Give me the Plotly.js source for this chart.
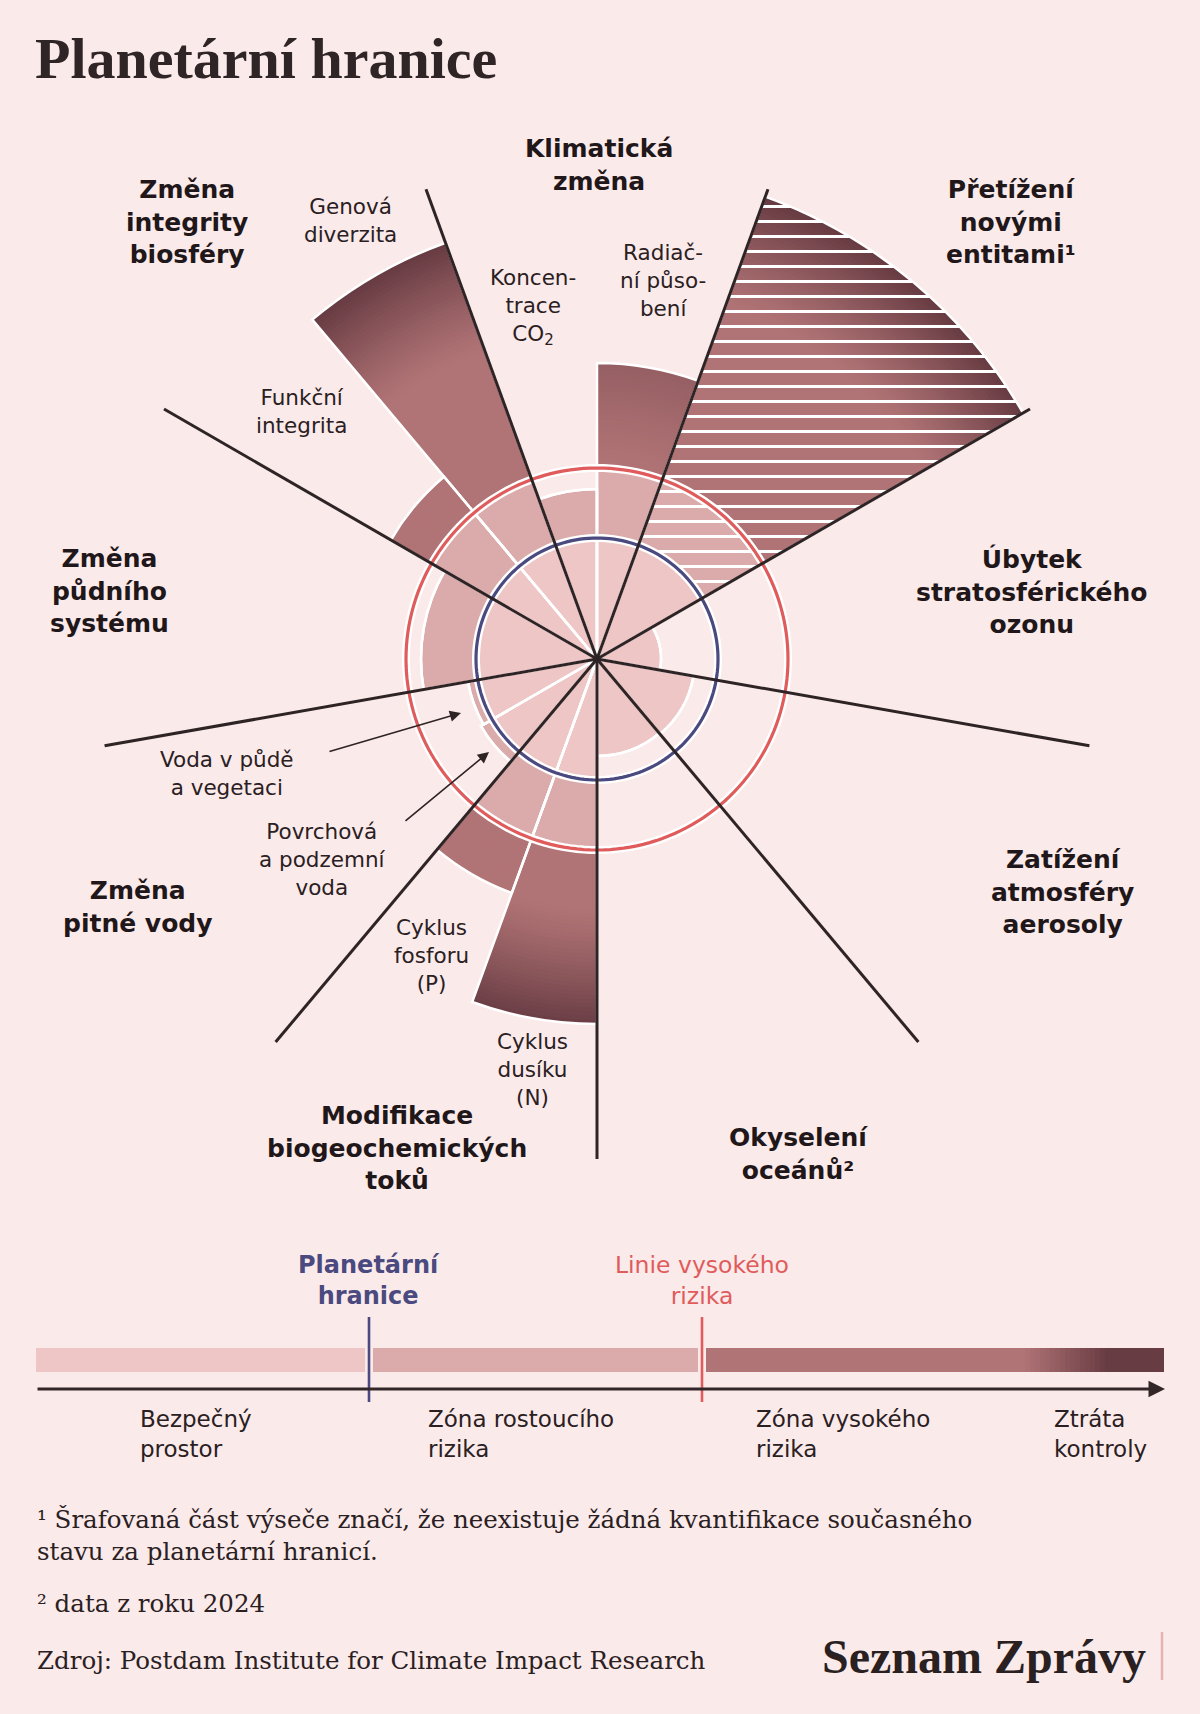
<!DOCTYPE html>
<html>
<head>
<meta charset="utf-8">
<script src="https://cdn.plot.ly/plotly-3.0.1.min.js"></script>
<style>
html,body{margin:0;padding:0;background:#fbeaea;}
#chart{width:1200px;height:1714px;}
</style>
</head>
<body>
<div id="chart"></div>
<script>
// ---------------- DATA ----------------
// radial chart units: planetary boundary at PB, high-risk line at HR
const PB = 121;
const HR = 191;
const subNames = ["Koncentrace CO2","Radiační působení","Nové entity","Úbytek ozonu","Aerosoly","Okyselení oceánů","Cyklus dusíku","Cyklus fosforu","Povrchová a podzemní voda","Voda v půdě a vegetaci","Změna půdního systému","Funkční integrita","Genová diverzita"];
const subTheta = [350, 10, 40, 80, 120, 160, 190, 210, 230, 250, 280, 310, 330];
const subWidth = [20, 20, 40, 40, 40, 40, 20, 20, 20, 20, 40, 20, 20];
const subValue = [170, 296, 492, 64, 98, 97, 365, 249, 134, 131, 176, 238, 443];
const subHatched = [false, false, true, false, false, false, false, false, false, false, false, false, false];
const dividerTheta = [20, 60, 100, 140, 180, 220, 260, 300, 340];
const dividerLength = 500;

const sectorLabels = ["Klimatická<br>změna","Přetížení<br>novými<br>entitami¹","Úbytek<br>stratosférického<br>ozonu","Zatížení<br>atmosféry<br>aerosoly","Okyselení<br>oceánů²","Modifikace<br>biogeochemických<br>toků","Změna<br>pitné vody","Změna<br>půdního<br>systému","Změna<br>integrity<br>biosféry"];
const subLabels = ["Koncen-<br>trace<br>CO<sub>2</sub>","Radiač-<br>ní půso-<br>bení","Cyklus<br>dusíku<br>(N)","Cyklus<br>fosforu<br>(P)","Povrchová<br>a podzemní<br>voda","Voda v půdě<br>a vegetaci","Funkční<br>integrita","Genová<br>diverzita"];
const scaleTop = ["Planetární<br>hranice","Linie vysokého<br>rizika"];
const scaleBottom = ["Bezpečný<br>prostor","Zóna rostoucího<br>rizika","Zóna vysokého<br>rizika","Ztráta<br>kontroly"];

// ---------------- STYLE ----------------
const BG = '#fbeaea';
const C_SAFE = '#efc6c6';
const C_INC = '#dbaaaa';
const C_HIGH = '#b17476';
const C_DARK = '#683c43';
const C_BLUE = '#4b4a80';
const C_RED = '#e05c5c';
const C_LINE = '#2e2426';
const C_TEXT = '#2a2022';
const SANS = '"DejaVu Sans", "Noto Sans", sans-serif';
const SERIF = '"DejaVu Serif", "Liberation Serif", serif';
const TITLE_SERIF = '"Liberation Serif", serif';

function hex2rgb(h){return [parseInt(h.slice(1,3),16),parseInt(h.slice(3,5),16),parseInt(h.slice(5,7),16)];}
function mix(a,b,t){const A=hex2rgb(a),B=hex2rgb(b);return 'rgb('+A.map((v,i)=>Math.round(v+(B[i]-v)*t)).join(',')+')';}

const W = 1200, H = 1714;
const X = px => px / W;
const Y = py => 1 - py / H;
const CX = 597, CY = 659, RPX = 505;

const traces = [];
const idxAll = subValue.map((v,i)=>i);
const idxHigh = idxAll.filter(i=>subValue[i] > HR);
const idxInc = idxAll.filter(i=>subValue[i] > PB);
const HATCH = {shape:'-', fgcolor:'#ffffff', size:15, solidity:0.2, fillmode:'replace'};

// high-risk zone with darkening toward the outer edge
const NSTEP = 28;
for (let k = 0; k <= NSTEP; k++) {
  const plain = {r:[], c:[], th:[], wd:[]};
  idxHigh.forEach(i => {
    const v = subValue[i];
    const D = Math.min(115, v - HR);
    const I = Math.max(0, Math.min(1, (v - HR - 60) / 120));
    const s = (NSTEP - k) / NSTEP;
    const rr = v - D * (k / NSTEP);
    const col = mix(C_HIGH, C_DARK, I * Math.pow(s, 1.2));
    if (subHatched[i]) {
      traces.push({type:'barpolar', r:[rr], theta:[subTheta[i]], width:[subWidth[i]],
        marker:{color:col, line:{width:0}, pattern:Object.assign({bgcolor:col}, HATCH)}, hoverinfo:'skip'});
    } else {
      plain.r.push(rr); plain.c.push(col); plain.th.push(subTheta[i]); plain.wd.push(subWidth[i]);
    }
  });
  traces.push({type:'barpolar', r:plain.r, theta:plain.th, width:plain.wd,
    marker:{color:plain.c, line:{width:0}}, hoverinfo:'skip'});
}
// zone of increasing risk
traces.push({type:'barpolar', r:idxInc.map(i=>Math.min(subValue[i],HR)), theta:idxInc.map(i=>subTheta[i]), width:idxInc.map(i=>subWidth[i]),
  marker:{color:C_INC, line:{color:'#ffffff', width:2.5},
    pattern:{shape:idxInc.map(i=>subHatched[i]?'-':''), fgcolor:'#ffffff', bgcolor:C_INC, size:15, solidity:0.2, fillmode:'replace'}},
  hoverinfo:'skip'});
// safe space
traces.push({type:'barpolar', r:idxAll.map(i=>Math.min(subValue[i],PB)), theta:subTheta, width:subWidth,
  marker:{color:C_SAFE, line:{color:'#ffffff', width:2.5}}, hoverinfo:'skip'});
// white outlines between sub-wedges
traces.push({type:'barpolar', r:subValue, theta:subTheta, width:subWidth,
  marker:{color:'rgba(0,0,0,0)', line:{color:'#ffffff', width:2.5}}, hoverinfo:'skip'});

// boundary circles
const circTheta = [];
for (let a = 0; a <= 360; a += 2) circTheta.push(a);
[[PB, C_BLUE],[HR, C_RED]].forEach(([rr,col]) => {
  traces.push({type:'scatterpolar', mode:'lines', r:circTheta.map(()=>rr), theta:circTheta,
    line:{color:'#ffffff', width:8}, hoverinfo:'skip'});
  traces.push({type:'scatterpolar', mode:'lines', r:circTheta.map(()=>rr), theta:circTheta,
    line:{color:col, width:3.2}, hoverinfo:'skip'});
});
// sector dividers
dividerTheta.forEach(t => {
  traces.push({type:'scatterpolar', mode:'lines', r:[0, dividerLength], theta:[t, t],
    line:{color:C_LINE, width:3}, hoverinfo:'skip'});
});

// ---------------- ANNOTATIONS ----------------
const ann = [];
function txt(text, x, y, o) {
  o = o || {};
  ann.push({text:text, x:X(x), y:Y(y), xref:'paper', yref:'paper', showarrow:false,
    xanchor:o.xanchor||'center', yanchor:o.yanchor||'middle', align:o.align||'center',
    font:Object.assign({family:SANS, size:20, color:C_TEXT}, o.font||{})});
}
// title
txt('Planetární hranice', 33, 58, {xanchor:'left', align:'left', font:{family:TITLE_SERIF, size:58, weight:700, color:'#2f2426'}});

// sector labels
const secPos = [[599,165],[1011,222],[1031,591],[1062,892],[798,1154],[397,1148],[138,907],[109,591],[187,222]];
sectorLabels.forEach((s,i)=>txt(s, secPos[i][0], secPos[i][1], {font:{size:25, weight:700, color:'#1f1719'}}));
// sub labels
const subPos = [[533,307],[663,281],[532,1069],[431,955],[322,859],[227,773],[301,412],[350,220]];
subLabels.forEach((s,i)=>txt(s, subPos[i][0], subPos[i][1], {font:{size:21.5, weight:400}}));

// pointer arrows for the water labels
[[461,713,-133,39],[489,752,-85,70]].forEach(a=>{
  ann.push({text:'', x:X(a[0]), y:Y(a[1]), xref:'paper', yref:'paper', showarrow:true,
    ax:a[2], ay:a[3], axref:'pixel', ayref:'pixel', arrowhead:2, arrowsize:1.4, arrowwidth:1.6, arrowcolor:C_LINE, standoff:0});
});

// scale legend
txt(scaleTop[0], 369, 1280, {font:{size:24, weight:700, color:C_BLUE}});
txt(scaleTop[1], 702, 1280, {font:{size:23.5, color:C_RED, weight:400}});
const botX = [138, 426, 754, 1052];
scaleBottom.forEach((s,i)=>txt(s, botX[i], 1434, {xanchor:'left', align:'left', font:{size:23, weight:400}}));
ann.push({text:'', x:X(1165), y:Y(1389), xref:'paper', yref:'paper', showarrow:true,
  ax:-1129, ay:0, axref:'pixel', ayref:'pixel', arrowhead:2, arrowsize:1.1, arrowwidth:3, arrowcolor:'#332628', standoff:0});

// footnotes
txt('¹ Šrafovaná část výseče značí, že neexistuje žádná kvantifikace současného<br>stavu za planetární hranicí.', 35, 1535, {xanchor:'left', align:'left', font:{family:SERIF, size:24.5}});
txt('² data z roku 2024', 35, 1603, {xanchor:'left', align:'left', font:{family:SERIF, size:24.5}});
txt('Zdroj: Postdam Institute for Climate Impact Research', 35, 1660, {xanchor:'left', align:'left', font:{family:SERIF, size:24.5}});
txt('Seznam Zprávy', 1148, 1656, {xanchor:'right', align:'right', font:{family:TITLE_SERIF, size:48, weight:700, color:'#2a1f21'}});

// ---------------- SHAPES (scale bar) ----------------
const shapes = [];
function rect(x0,x1,y0,y1,col){shapes.push({type:'rect', xref:'paper', yref:'paper', x0:X(x0), x1:X(x1), y0:Y(y1), y1:Y(y0), fillcolor:col, line:{width:0}, layer:'above'});}
rect(36, 366, 1348, 1372, C_SAFE);
rect(372, 699, 1348, 1372, C_INC);
const gStart = 1025, gEnd = 1110, gSteps = 17;
rect(705, gStart, 1348, 1372, C_HIGH);
for (let k = 0; k < gSteps; k++) {
  const x0 = gStart + (gEnd - gStart) * k / gSteps;
  rect(x0, x0 + (gEnd-gStart)/gSteps + 0.8, 1348, 1372, mix(C_HIGH, C_DARK, (k+1)/gSteps));
}
rect(gEnd, 1164, 1348, 1372, C_DARK);
function vline(x, col){
  shapes.push({type:'line', xref:'paper', yref:'paper', x0:X(x), x1:X(x), y0:Y(1317), y1:Y(1402), line:{color:BG, width:8}, layer:'above'});
  shapes.push({type:'line', xref:'paper', yref:'paper', x0:X(x), x1:X(x), y0:Y(1317), y1:Y(1402), line:{color:col, width:2.6}, layer:'above'});
}
// logo bar
shapes.push({type:'line', xref:'paper', yref:'paper', x0:X(1162), x1:X(1162), y0:Y(1632), y1:Y(1680), line:{color:'#e6b3b3', width:2.5}});

const layout = {
  width:W, height:H, margin:{l:0,r:0,t:0,b:0}, paper_bgcolor:BG, plot_bgcolor:BG, showlegend:false,
  polar:{
    domain:{x:[(CX-RPX)/W, (CX+RPX)/W], y:[(H-CY-RPX)/H, (H-CY+RPX)/H]},
    bgcolor:'rgba(0,0,0,0)', barmode:'overlay', bargap:0, hole:0,
    radialaxis:{visible:false, range:[0, RPX]},
    angularaxis:{visible:false, direction:'clockwise', rotation:90}
  },
  annotations:ann, shapes:shapes
};

Plotly.newPlot('chart', traces, layout, {displayModeBar:false, staticPlot:true}).then(()=>{
  vline(369, C_BLUE); vline(702, C_RED);
  Plotly.relayout('chart', {shapes:shapes});
});
</script>
</body>
</html>
